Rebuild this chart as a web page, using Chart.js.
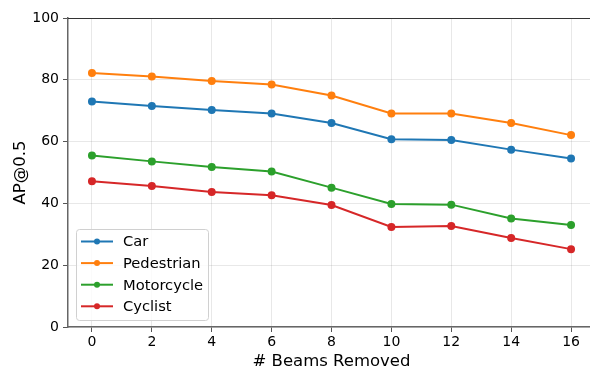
<!DOCTYPE html>
<html>
<head>
<meta charset="utf-8">
<script src="https://cdn.jsdelivr.net/npm/chart.js@4/dist/chart.umd.min.js"></script>
<style>
  html, body { margin: 0; padding: 0; background: #fff; overflow: hidden; }
  #wrap { width: 600px; height: 369px; }
</style>
</head>
<body>
<div id="wrap"><canvas id="chart" width="600" height="369"></canvas></div>
<script>
// data
const beamsRemoved = [0, 2, 4, 6, 8, 10, 12, 14, 16];
const carAP        = [73.0, 71.5, 70.2, 69.1, 66.0, 60.8, 60.5, 57.4, 54.5];
const pedestrianAP = [82.2, 81.1, 79.6, 78.5, 74.9, 69.1, 69.1, 66.0, 62.1];
const motorcycleAP = [55.5, 53.6, 51.8, 50.3, 45.1, 39.8, 39.6, 35.1, 33.0];
const cyclistAP    = [47.2, 45.6, 43.7, 42.6, 39.5, 32.4, 32.7, 28.8, 25.2];
const xTicks = [0, 2, 4, 6, 8, 10, 12, 14, 16];
const yTicks = [0, 20, 40, 60, 80, 100];

const FONT = "'DejaVu Sans', sans-serif";

function series(label, values, color) {
  return {
    label,
    data: beamsRemoved.map((x, i) => ({ x, y: values[i] })),
    borderColor: color,
    backgroundColor: color,
    borderWidth: 2,
    pointRadius: 3,
    pointHoverRadius: 3,
    tension: 0,
  };
}

// legend drawn inside the axes, lower-left, matplotlib style
const innerLegend = {
  id: "innerLegend",
  afterDraw(chart) {
    const ctx = chart.ctx;
    const area = chart.chartArea;
    const x0 = area.left + 8, y0 = 229, w = 132, h = 91;
    ctx.save();
    ctx.beginPath();
    ctx.roundRect(x0 + 0.5, y0 + 0.5, w, h, 3);
    ctx.fillStyle = "rgba(255,255,255,0.8)";
    ctx.fill();
    ctx.strokeStyle = "#d0d0d0";
    ctx.lineWidth = 1;
    ctx.stroke();
    ctx.font = "14.7px " + FONT;
    ctx.textBaseline = "middle";
    chart.data.datasets.forEach((ds, i) => {
      const cy = y0 + 12.5 + i * 21.6;
      ctx.strokeStyle = ds.borderColor;
      ctx.lineWidth = 2;
      ctx.beginPath();
      ctx.moveTo(x0 + 5, cy);
      ctx.lineTo(x0 + 37, cy);
      ctx.stroke();
      ctx.fillStyle = ds.borderColor;
      ctx.beginPath();
      ctx.arc(x0 + 21, cy, 3, 0, Math.PI * 2);
      ctx.fill();
      ctx.fillStyle = "#000";
      ctx.fillText(ds.label, x0 + 47, cy + 1);
    });
    ctx.restore();
  },
};

// top spine
const topSpine = {
  id: "topSpine",
  afterDraw(chart) {
    const { ctx, chartArea } = chart;
    ctx.save();
    ctx.strokeStyle = "#333";
    ctx.lineWidth = 1;
    ctx.beginPath();
    ctx.moveTo(chartArea.left, chartArea.top + 0.5);
    ctx.lineTo(chartArea.right, chartArea.top + 0.5);
    ctx.stroke();
    ctx.restore();
  },
};

new Chart(document.getElementById("chart"), {
  type: "line",
  data: {
    datasets: [
      series("Car", carAP, "#1f77b4"),
      series("Pedestrian", pedestrianAP, "#ff7f0e"),
      series("Motorcycle", motorcycleAP, "#2ca02c"),
      series("Cyclist", cyclistAP, "#d62728"),
    ],
  },
  options: {
    responsive: false,
    animation: false,
    layout: { padding: { left: 11, top: 18, right: 4, bottom: 0 } },
    plugins: { legend: { display: false }, tooltip: { enabled: false } },
    scales: {
      x: {
        type: "linear",
        min: -0.8,
        max: 16.8,
        afterBuildTicks: (s) => { s.ticks = xTicks.map((v) => ({ value: v })); },
        afterFit: (s) => { s.height = 42; },
        grid: { color: "rgba(0,0,0,0.09)", tickColor: "#555", tickLength: 5 },
        border: { color: "#666", width: 1.5 },
        ticks: { color: "#000", font: { family: FONT, size: 14 }, padding: 2, maxRotation: 0 },
        title: { display: true, text: "# Beams Removed", color: "#000", font: { family: FONT, size: 16.5 }, padding: { top: 0, bottom: -3 } },
      },
      y: {
        min: 0,
        max: 100,
        afterBuildTicks: (s) => { s.ticks = yTicks.map((v) => ({ value: v })); },
        afterFit: (s) => { s.width = 57; },
        grid: { color: "rgba(0,0,0,0.09)", tickColor: "#555", tickLength: 5 },
        border: { color: "#666", width: 1.5 },
        ticks: { color: "#000", font: { family: FONT, size: 14 }, padding: 4 },
        title: { display: true, text: "AP@0.5", color: "#000", font: { family: FONT, size: 16.5 }, padding: { top: 0, bottom: 4 } },
      },
    },
  },
  plugins: [innerLegend, topSpine],
});
</script>
</body>
</html>
